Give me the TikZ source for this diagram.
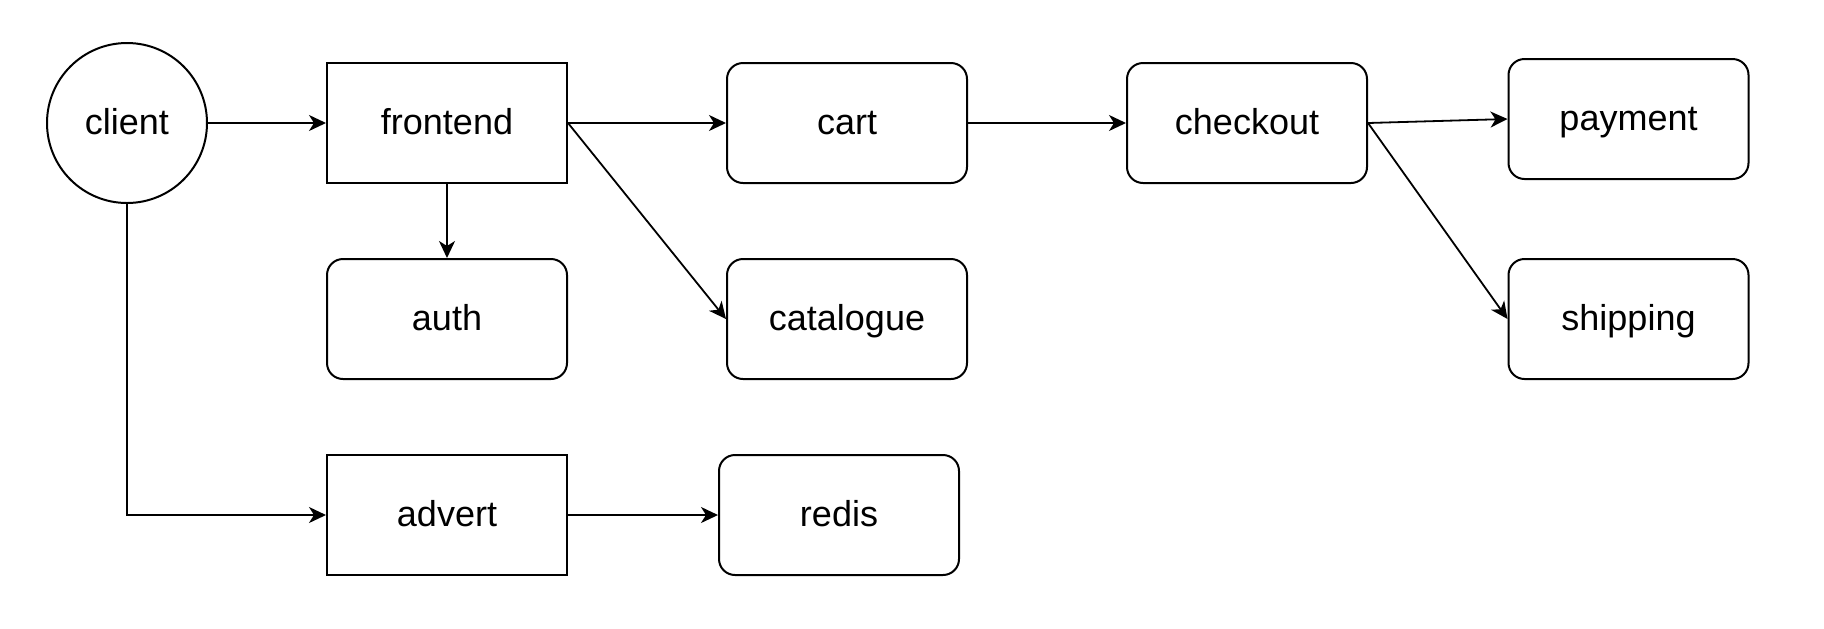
\documentclass[tikz,border=0pt]{standalone}
\usepackage{fontspec}
\setmainfont{Liberation Sans}
\usetikzlibrary{arrows.meta}
\tikzset{
  svc/.style={draw,line width=1pt,minimum width=120pt,minimum height=60pt,inner sep=0pt,text height=14pt,text depth=3pt,font=\fontsize{18}{22}\selectfont},
  rsvc/.style={svc,rounded corners=8pt},
  link/.style={line width=0.9pt,-{Stealth[length=8.5pt,width=8pt,inset=2.5pt]}}
}
\begin{document}
\begin{tikzpicture}[x=0.5pt,y=-0.5pt]
\useasboundingbox (0,0) rectangle (1824,628);
\node[draw,circle,line width=1pt,minimum size=80pt,inner sep=0pt,text height=14pt,text depth=3pt,font=\fontsize{18}{22}\selectfont] (client) at (127,123) {client};
\node[svc] (frontend) at (447,123) {frontend};
\node[rsvc] (auth) at (447,319) {auth};
\node[svc] (advert) at (447,515) {advert};
\node[rsvc] (cart) at (847,123) {cart};
\node[rsvc] (catalogue) at (847,319) {catalogue};
\node[rsvc] (redis) at (839,515) {redis};
\node[rsvc] (checkout) at (1247,123) {checkout};
\node[rsvc] (payment) at (1628.5,119) {payment};
\node[rsvc] (shipping) at (1628.5,319) {shipping};
\draw[link] (client) -- (frontend);
\draw[link] (client.south) |- (advert.west);
\draw[link] (frontend) -- (auth);
\draw[link] (frontend.east) -- (cart.west);
\draw[link] (frontend.east) -- (catalogue.west);
\draw[link] (advert) -- (redis);
\draw[link] (cart) -- (checkout);
\draw[link] (checkout.east) -- (payment.west);
\draw[link] (checkout.east) -- (shipping.west);
%\draw[link] (cart) -- (redis);
\end{tikzpicture}
\end{document}
